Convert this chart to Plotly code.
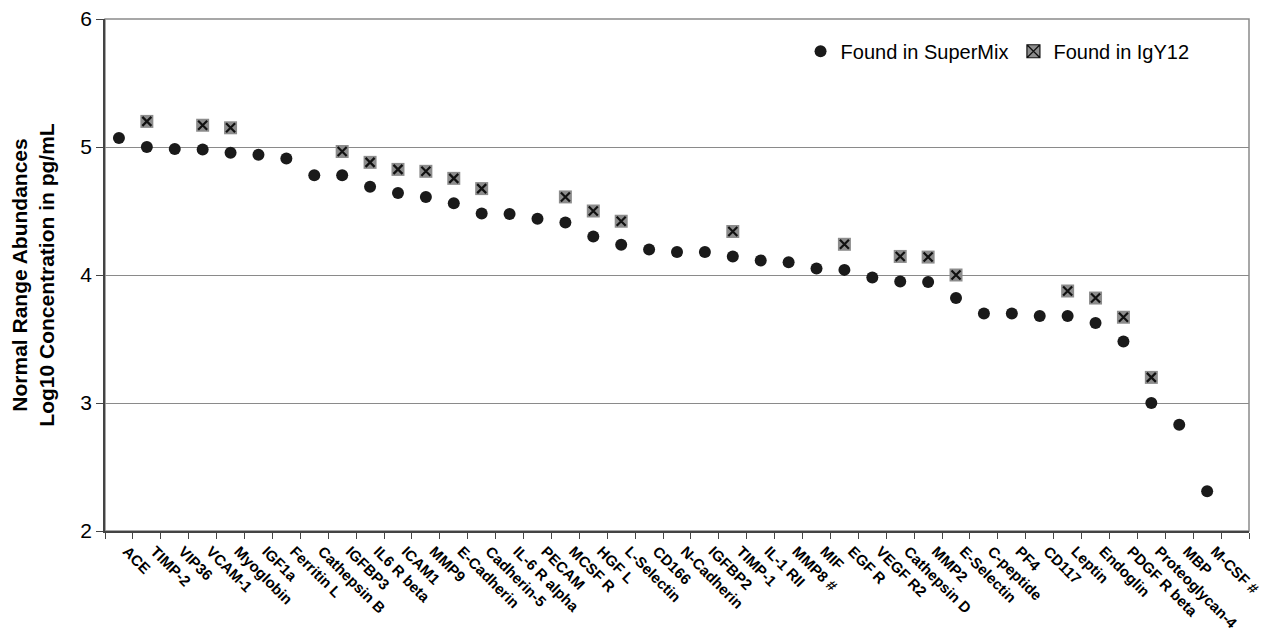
import plotly.graph_objects as go

categories = ["ACE", "TIMP-2", "VIP36", "VCAM-1", "Myoglobin", "IGF1a", "Ferritin L",
              "Cathepsin B", "IGFBP3", "IL6 R beta", "ICAM1", "MMP9", "E-Cadherin",
              "Cadherin-5", "IL-6 R alpha", "PECAM", "MCSF R", "HGF L", "L-Selectin",
              "CD166", "N-Cadherin", "IGFBP2", "TIMP-1", "IL-1 RII", "MMP8 #", "MIF",
              "EGF R", "VEGF R2", "Cathepsin D", "MMP2", "E-Selectin", "C-peptide",
              "PF4", "CD117", "Leptin", "Endoglin", "PDGF R beta", "Proteoglycan-4",
              "MBP", "M-CSF #"]

supermix = [5.07, 5.00, 4.985, 4.98, 4.955, 4.94, 4.91,
            4.78, 4.78, 4.69, 4.64, 4.61, 4.56,
            4.48, 4.477, 4.44, 4.41, 4.30, 4.236,
            4.20, 4.18, 4.18, 4.145, 4.114, 4.10, 4.05,
            4.04, 3.98, 3.95, 3.945, 3.82, 3.70,
            3.70, 3.68, 3.68, 3.625, 3.48, 3.00,
            2.83, 2.31]

igy12 = [None, 5.20, None, 5.17, 5.15, None, None,
         None, 4.965, 4.88, 4.825, 4.81, 4.755,
         4.675, None, None, 4.61, 4.50, 4.42,
         None, None, None, 4.34, None, None, None,
         4.24, None, 4.145, 4.14, 4.00, None,
         None, None, 3.875, 3.82, 3.67, 3.20,
         None, None]

y_ticks = [2, 3, 4, 5, 6]

xpos = list(range(len(categories)))
FONT = "Liberation Sans, Arial, sans-serif"

fig = go.Figure()
fig.add_trace(go.Scatter(
    x=xpos, y=supermix, mode="markers", name="Found in SuperMix",
    marker=dict(symbol="circle", size=12, color="#1a1a1a", line=dict(width=0)),
))
# IgY12: gray square with black cross on top
fig.add_trace(go.Scatter(
    x=xpos, y=igy12, mode="markers", name="Found in IgY12", showlegend=False,
    marker=dict(symbol="square", size=13, color="#8c8c8c", line=dict(width=0)),
))
fig.add_trace(go.Scatter(
    x=xpos, y=igy12, mode="markers", name="Found in IgY12", showlegend=False,
    marker=dict(symbol="x-thin-open", size=9, color="#111111",
                line=dict(width=2.2, color="#111111")),
))
# legend-only entry
fig.add_trace(go.Scatter(
    x=[None], y=[None], mode="markers", name="Found in IgY12",
    marker=dict(symbol="square-x", size=13, color="#8c8c8c",
                line=dict(width=1.2, color="#111111")),
))

fig.update_layout(
    width=1262, height=624,
    margin=dict(l=97, r=21, t=11, b=101, autoexpand=False),
    plot_bgcolor="white", paper_bgcolor="white",
    font=dict(family=FONT, color="black"),
    showlegend=True,
    legend=dict(orientation="h", x=0.608, y=0.937, xanchor="left", yanchor="middle",
                font=dict(size=20), bgcolor="rgba(0,0,0,0)", itemwidth=30,
                tracegroupgap=0),
    shapes=[dict(type="rect", xref="paper", yref="paper", x0=0, y0=0, x1=1, y1=1,
                 line=dict(color="#8a8a8a", width=1.5), layer="below")],
)

fig.update_xaxes(
    range=[-0.5, len(categories) + 0.5], automargin=False,
    tickmode="array", tickvals=xpos, ticktext=categories,
    tickangle=45, ticks="", showgrid=False, zeroline=False,
    tickfont=dict(size=15, family=FONT, weight="bold"),
    ticklabelstandoff=4, ticklabelshift=8,
    showline=True, linecolor="#444444", linewidth=1.5,
    minor=dict(ticks="outside", ticklen=6, tickcolor="#444444", tickwidth=1,
               tickmode="linear", tick0=0.5, dtick=1, showgrid=False),
)
fig.update_yaxes(
    range=[2, 6], tickvals=y_ticks, ticks="outside", ticklen=7, tickcolor="#444444",
    automargin=False, ticklabelstandoff=0, ticklabeloverflow="allow",
    showgrid=True, gridcolor="#8a8a8a", gridwidth=1, zeroline=False,
    showline=True, linecolor="#444444", linewidth=1.5,
    tickfont=dict(size=21),
    title=dict(text="<b>Normal Range Abundances<br>Log10 Concentration in pg/mL</b>",
               font=dict(size=21), standoff=22),
)

fig.write_html("out.html")
